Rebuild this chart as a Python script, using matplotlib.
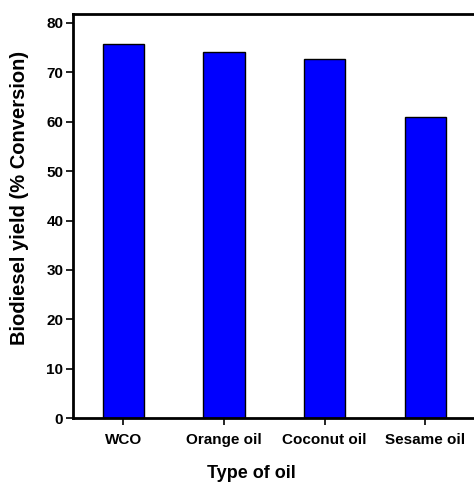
import matplotlib.pyplot as plt
import numpy as np

oils = ['WCO', 'Orange oil', 'Coconut oil', 'Sesame oil']
yields = [75.8, 74.1, 72.6, 61.0]
yticks = [0, 10, 20, 30, 40, 50, 60, 70, 80]

plt.rcParams['font.family'] = ['Liberation Sans', 'DejaVu Sans']
plt.rcParams['font.weight'] = 'bold'

fig = plt.figure(figsize=(4.74, 4.84), dpi=100)
ax = fig.add_axes([0.154, 0.136, 1.025 - 0.154, 0.971 - 0.136])

x = np.arange(len(oils))
ax.bar(x, yields, width=0.41, color='#0000FF', edgecolor='black', linewidth=1)

ax.set_xlim(-0.5, 3.6)
ax.set_ylim(0, 81.8)
ax.set_xticks(x)
ax.set_xticklabels(oils, fontsize=11, fontweight='bold')
ax.set_yticks(yticks)
ax.set_yticklabels([str(t) for t in yticks], fontsize=11, fontweight='bold')

for s in ['left', 'bottom', 'top']:
    ax.spines[s].set_linewidth(2)
ax.spines['right'].set_visible(False)
ax.tick_params(axis='both', direction='out', length=5, width=1.2, pad=2)
ax.tick_params(axis='x', pad=6)

ax.set_xlabel('Type of oil', fontsize=13, fontweight='bold')
ax.set_ylabel('Biodiesel yield (% Conversion)', fontsize=14.5, fontweight='bold')
ax.xaxis.set_label_coords(0.431, -0.115)
ax.yaxis.set_label_coords(-0.107, 0.546)

fig.savefig('out.png', dpi=100)
